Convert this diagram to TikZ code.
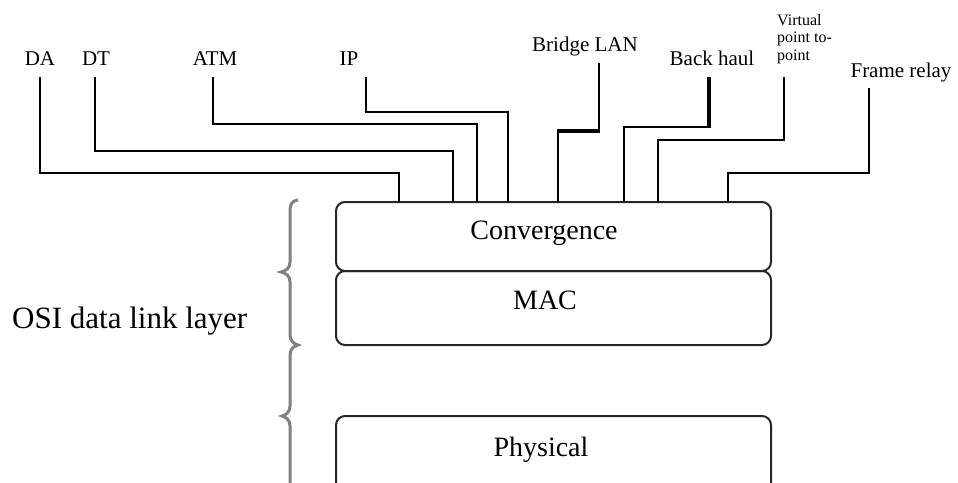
\documentclass[tikz,border=0pt]{standalone}
\usepackage{fontspec}
\setmainfont{Liberation Serif}
\begin{document}
\begin{tikzpicture}[x=1pt,y=-1pt,
  lbl/.style={inner sep=0pt, anchor=base, font=\fontsize{21}{25}\selectfont},
  boxtxt/.style={inner sep=0pt, anchor=base, font=\fontsize{28}{32}\selectfont},
  layerbox/.style={draw=black!85, line width=2pt, rounded corners=9pt, anchor=north west, inner sep=0pt, outer sep=0pt, minimum width=435},
  wire/.style={line width=1.4pt},
  thickwire/.style={line width=3.2pt},
  bracepath/.style={draw=black!50, line width=3pt}]
\clip (0,0) rectangle (958,482);
% layer boxes
\node[layerbox, minimum height=69] (conv) at (336,202) {};
\node[layerbox, minimum height=74] (mac) at (336,271) {};
\node[layerbox, minimum height=100] (phy) at (336,416) {};
\node[boxtxt] (convt) at (544,239) {Convergence};
\node[boxtxt] (mact) at (545,309) {MAC};
\node[boxtxt] (phyt) at (541,456) {Physical};
% side label and brace
\node[inner sep=0pt, anchor=base west, font=\fontsize{31}{35}\selectfont] (osi) at (12,328) {OSI data link layer};
\path[bracepath] (298,200) .. controls (291,201) and (290,205) .. (290,212) -- (290,262)
  .. controls (290,268) and (286,271) .. (281,272) .. controls (286,273) and (290,276) .. (290,282)
  -- (290,335) .. controls (290,341) and (294,344) .. (298,345) .. controls (294,346) and (290,349) .. (290,355)
  -- (290,406) .. controls (290,412) and (286,415) .. (282,416) .. controls (286,417) and (290,420) .. (290,426)
  -- (290,490);
% top labels
\node[lbl] (da) at (40,65) {DA};
\node[lbl] (dt) at (96,65) {DT};
\node[lbl] (atm) at (215,65) {ATM};
\node[lbl] (ip) at (349,65) {IP};
\node[lbl] (br) at (585,51) {Bridge LAN};
\node[lbl] (bh) at (712,65) {Back haul};
\node[lbl] (fr) at (901,77) {Frame relay};
\node[inner sep=0pt, anchor=north west, align=left, font=\fontsize{16}{17.5}\selectfont] (vp) at (777,14) {Virtual\\point to-\\point};
% connector top ends
\coordinate (daT) at (40,77);
\coordinate (dtT) at (95,77);
\coordinate (atmT) at (213,77);
\coordinate (ipT) at (366,77);
\coordinate (brT) at (599,63);
\coordinate (bhT) at (709,77);
\coordinate (vpT) at (784,77);
\coordinate (frT) at (869,88);
% connectors
\draw[wire] (daT) |- (399,173) -- (399,0 |- conv.north);
\draw[wire] (dtT) |- (453,151) -- (453,0 |- conv.north);
\draw[wire] (atmT) |- (477,124) -- (477,0 |- conv.north);
\draw[wire] (ipT) |- (508,112) -- (508,0 |- conv.north);
\draw[wire] (brT) -- (599,131);
\draw[thickwire] (600.4,131) -- (557.3,131);
\draw[wire] (558,131) -- (558,0 |- conv.north);
\draw[thickwire] (bhT) -- (709,127);
\draw[wire] (710.5,127) -| (624,0 |- conv.north);
\draw[wire] (vpT) |- (658,140) -- (658,0 |- conv.north);
\draw[wire] (frT) |- (728,173) -- (728,0 |- conv.north);
\end{tikzpicture}
\end{document}
